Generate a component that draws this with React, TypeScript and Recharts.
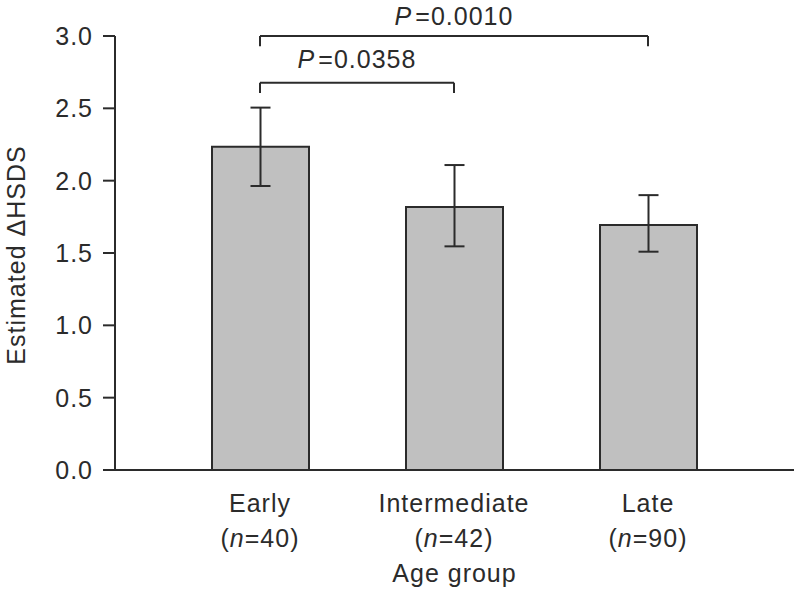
import React from 'react';
import { BarChart, Bar, XAxis, YAxis, ErrorBar, ReferenceLine } from 'recharts';

const groups = ['Early', 'Intermediate', 'Late'];
const sampleSizes = [40, 42, 90];
const means = [2.235, 1.818, 1.694];
const errLower = [0.272, 0.272, 0.185];
const errUpper = [0.27, 0.29, 0.206];
const yTicks = [0, 0.5, 1.0, 1.5, 2.0, 2.5, 3.0];

// significance brackets: from group, to group, bar height, drop-end height, p text
const bracketFrom = ['Early', 'Early'];
const bracketTo = ['Intermediate', 'Late'];
const bracketY = [2.677, 3.0];
const bracketDrop = [2.606, 2.93];
const bracketP = ['0.0358', '0.0010'];

const data = groups.map((g, i) => ({
  group: g,
  n: sampleSizes[i],
  mean: means[i],
  err: [errLower[i], errUpper[i]],
}));

const INK = '#2b2b2b';
const FONT = '"Liberation Sans", Arial, Helvetica, sans-serif';
const textStyle = { fontFamily: FONT, fontSize: 25, letterSpacing: 1, fill: INK };

const GroupTick = (props: any) => {
  const { x, y, payload } = props;
  const idx = groups.indexOf(payload.value);
  return (
    <g>
      <text x={x} y={y + 34} textAnchor="middle" style={textStyle}>{payload.value}</text>
      <text x={x} y={y + 69} textAnchor="middle" style={textStyle}>
        (<tspan fontStyle="italic">n</tspan>={sampleSizes[idx]})
      </text>
    </g>
  );
};

const pLabel = (p: string, gap: number) => (props: any) => {
  const vb = props.viewBox || {};
  const cx = vb.x + (vb.width || 0) / 2;
  return (
    <text x={cx} y={vb.y - gap} textAnchor="middle" style={textStyle}>
      <tspan fontStyle="italic">P</tspan>
      <tspan dx={3}>={p}</tspan>
    </text>
  );
};

const App: React.FC = () => {
  return (
    <div style={{ position: 'absolute', left: 0, top: 0, width: 794, height: 593, background: '#fff' }}>
      <BarChart width={794} height={593} data={data} margin={{ top: 36, right: 0, bottom: 0, left: 0 }}>
        <XAxis
          dataKey="group"
          height={123}
          padding={{ left: 48, right: 49 }}
          tickLine={false}
          axisLine={{ stroke: INK, strokeWidth: 2 }}
          tick={<GroupTick />}
          interval={0}
          label={(props: any) => {
            const vb = props.viewBox;
            return (
              <text x={vb.x + vb.width / 2} y={582} textAnchor="middle" style={textStyle}>
                Age group
              </text>
            );
          }}
        />
        <YAxis
          width={115}
          domain={[0, 3]}
          ticks={yTicks}
          tickFormatter={(v: number) => v.toFixed(1)}
          tickSize={12}
          tickMargin={10}
          tick={{ ...textStyle }}
          tickLine={{ stroke: INK, strokeWidth: 2 }}
          axisLine={{ stroke: INK, strokeWidth: 2 }}
          label={(props: any) => {
            const vb = props.viewBox;
            const cy = vb.y + vb.height / 2 + 2;
            return (
              <text x={25} y={cy} transform={`rotate(-90 25 ${cy})`} textAnchor="middle" style={textStyle}>
                Estimated ΔHSDS
              </text>
            );
          }}
        />
        <Bar dataKey="mean" fill="#c0c0c0" stroke={INK} strokeWidth={2} barSize={97} isAnimationActive={false}>
          <ErrorBar dataKey="err" width={10} stroke={INK} strokeWidth={2} />
        </Bar>
        {bracketY.map((yv, i) => (
          <ReferenceLine
            key={`h${i}`}
            segment={[{ x: bracketFrom[i], y: yv }, { x: bracketTo[i], y: yv }]}
            stroke={INK}
            strokeWidth={2}
            ifOverflow="visible"
            label={pLabel(bracketP[i], i === 0 ? 15 : 11)}
          />
        ))}
        {bracketY.map((yv, i) => (
          <ReferenceLine
            key={`l${i}`}
            segment={[{ x: bracketFrom[i], y: yv }, { x: bracketFrom[i], y: bracketDrop[i] }]}
            stroke={INK}
            strokeWidth={2}
            ifOverflow="visible"
          />
        ))}
        {bracketY.map((yv, i) => (
          <ReferenceLine
            key={`r${i}`}
            segment={[{ x: bracketTo[i], y: yv }, { x: bracketTo[i], y: bracketDrop[i] }]}
            stroke={INK}
            strokeWidth={2}
            ifOverflow="visible"
          />
        ))}
      </BarChart>
    </div>
  );
};

export default App;
